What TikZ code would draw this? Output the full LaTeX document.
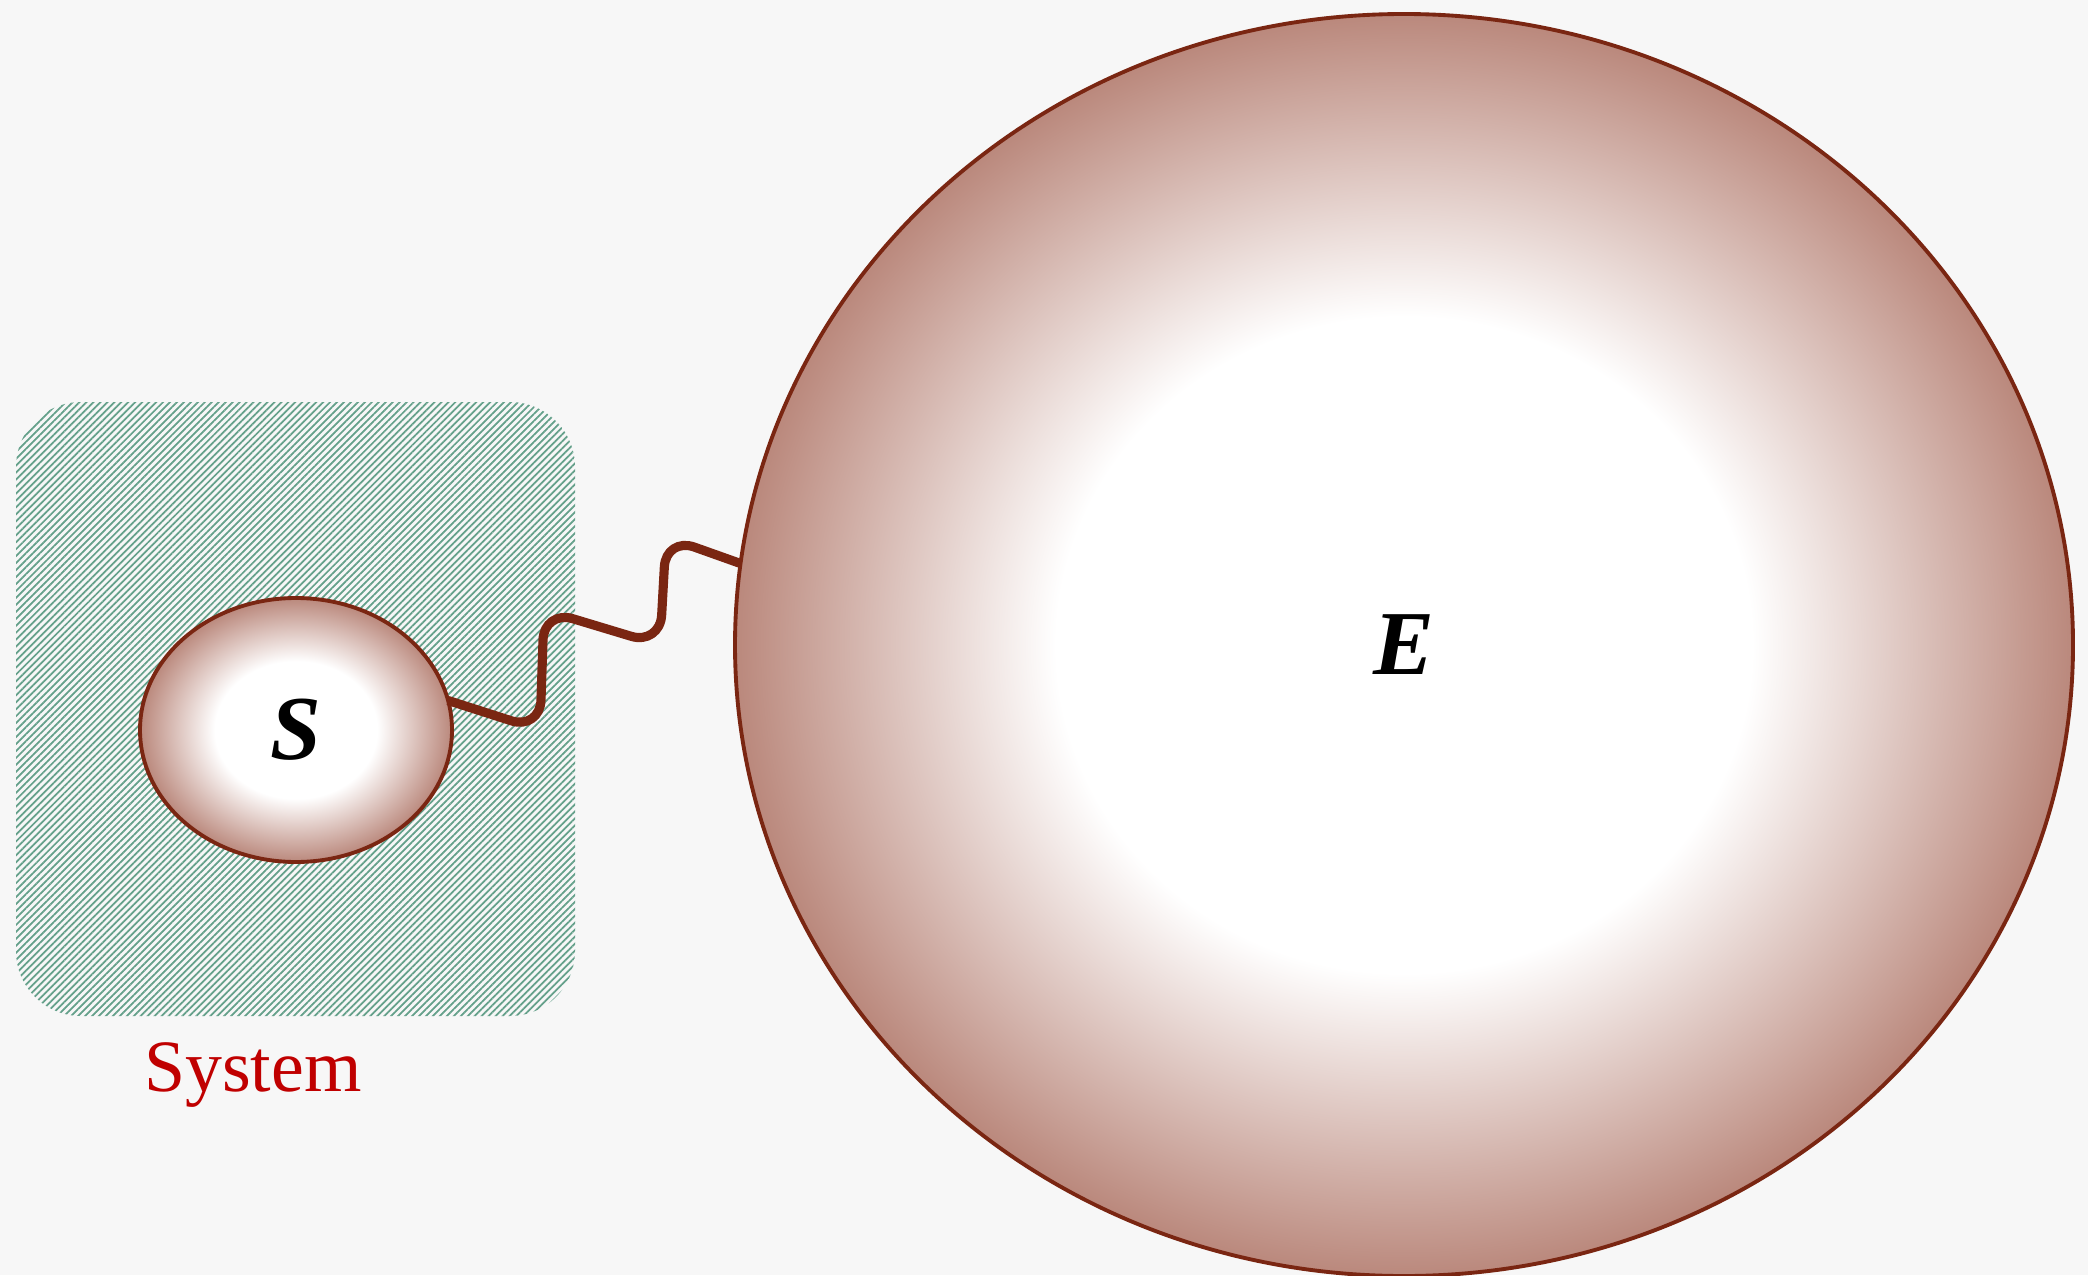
\documentclass[tikz,border=0pt]{standalone}
\usepackage{fontspec}
\setmainfont{Liberation Serif}
\usetikzlibrary{shapes.geometric,patterns.meta}
\definecolor{bggray}{RGB}{247,247,247}
\definecolor{edgebrown}{RGB}{122,38,18}
\definecolor{ballbrown}{RGB}{186,136,124}
\definecolor{hatchgreen}{RGB}{100,160,138}
\definecolor{labelred}{RGB}{192,0,0}
\pgfdeclareradialshading{ballshade}{\pgfpoint{0bp}{0bp}}{color(0bp)=(white); color(13bp)=(white); color(25bp)=(ballbrown); color(50bp)=(ballbrown)}
\tikzset{
  ball/.style={ellipse, draw=edgebrown, line width=1.1pt, shading=ballshade, inner sep=0pt, outer sep=0pt,
    font=\fontsize{26}{30}\selectfont\bfseries\itshape},
  wave/.style={draw=edgebrown, line width=2.6pt, rounded corners=0.3cm}
}
\begin{document}
\begin{tikzpicture}
\path[use as bounding box, fill=bggray] (0,0) rectangle (20.88,12.75);
\fill[pattern={Lines[angle=45,distance=1.4pt,line width=0.5pt]}, pattern color=hatchgreen, rounded corners=0.65cm] (0.16,2.59) rectangle (5.75,8.73);
\node[ball, minimum width=3.12cm, minimum height=2.64cm] (sys) at (2.96,5.45) {S};
\node[ball, minimum width=13.38cm, minimum height=12.62cm] (env) at (14.04,6.30) {E};
\node[text=labelred, font=\fontsize{21}{25}\selectfont] (syslabel) at (2.53,2.0) {System};
\draw[wave] (sys.11) -- (5.40,5.45) -- (5.44,6.65) -- (6.60,6.30) -- (6.66,7.38) -- (env.173.6);
\end{tikzpicture}
\end{document}
